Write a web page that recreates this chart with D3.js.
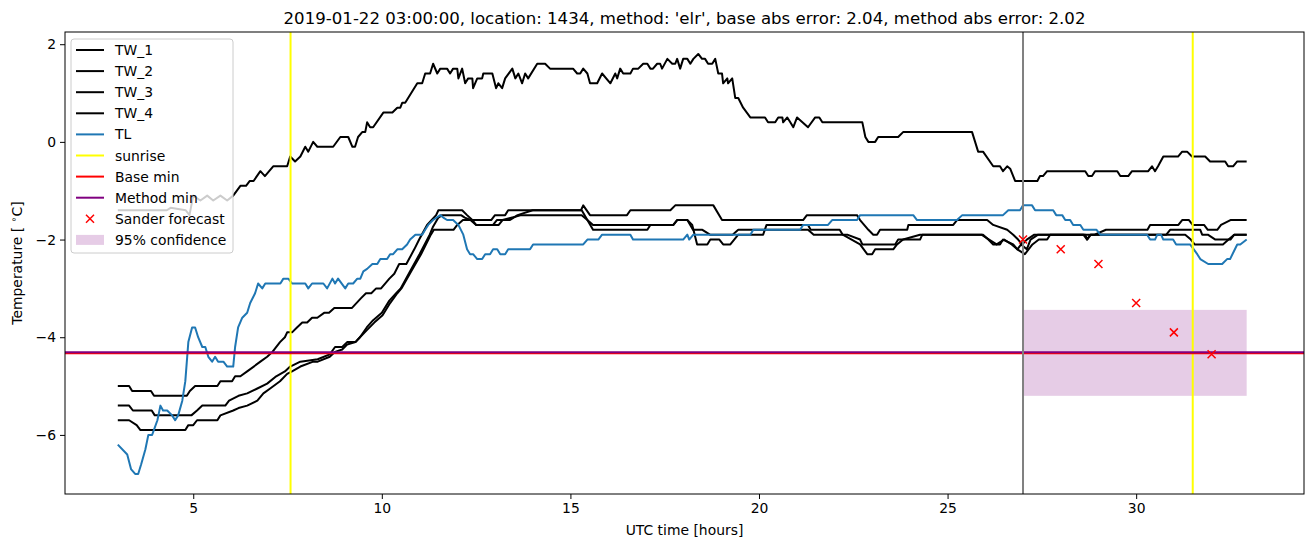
<!DOCTYPE html>
<html>
<head>
<meta charset="utf-8">
<script src="https://cdn.jsdelivr.net/npm/d3@7"></script>
<style>
  body { margin: 0; background: #fff; }
  text { font-family: "DejaVu Sans", sans-serif; fill: #000; }
</style>
</head>
<body>
<svg id="chart" width="1313" height="547"></svg>
<script>
// values, [hour, temperature]
const tw1 = [[3.0,-1.4],[4.3,-1.4],[4.4,-1.35],[4.8,-1.4],[4.9,-1.5],[5.0,-1.1],[5.19,-1.2],[5.37,-1.1],[5.53,-1.2],[5.72,-1.1],[5.9,-1.2],[6.06,-1.1],[6.25,-0.9],[6.4,-0.9],[6.5,-0.8],[6.6,-0.8],[6.78,-0.6],[6.9,-0.7],[7.12,-0.5],[7.49,-0.5],[7.57,-0.3],[7.7,-0.4],[7.84,-0.3],[7.97,-0.1],[8.05,-0.2],[8.18,0.0],[8.29,-0.1],[8.71,-0.1],[8.9,0.1],[9.11,0.1],[9.22,-0.1],[9.29,-0.1],[9.37,0.1],[9.48,0.2],[9.56,0.2],[9.61,0.4],[9.69,0.3],[9.77,0.3],[10.04,0.6],[10.28,0.6],[10.41,0.7],[10.49,0.7],[10.54,0.8],[10.62,0.8],[10.94,1.2],[11.07,1.2],[11.15,1.4],[11.28,1.4],[11.36,1.6],[11.47,1.4],[11.55,1.5],[11.73,1.5],[11.81,1.4],[11.89,1.5],[12.0,1.5],[12.03,1.3],[12.13,1.5],[12.21,1.2],[12.29,1.3],[12.4,1.3],[12.42,1.1],[12.53,1.3],[12.66,1.3],[12.69,1.4],[12.93,1.4],[13.03,1.1],[13.09,1.2],[13.19,1.1],[13.27,1.3],[13.46,1.5],[13.54,1.3],[13.62,1.4],[13.72,1.2],[13.8,1.4],[13.88,1.3],[14.12,1.6],[14.33,1.6],[14.46,1.5],[15.07,1.5],[15.18,1.4],[15.26,1.4],[15.34,1.5],[15.45,1.4],[15.52,1.2],[15.71,1.2],[15.84,1.4],[16.06,1.2],[16.19,1.4],[16.24,1.3],[16.32,1.5],[16.4,1.4],[16.59,1.4],[16.66,1.5],[16.8,1.5],[16.93,1.6],[17.04,1.6],[17.12,1.5],[17.19,1.5],[17.3,1.6],[17.38,1.6],[17.43,1.5],[17.57,1.7],[17.7,1.6],[17.78,1.6],[17.83,1.7],[17.91,1.5],[17.99,1.7],[18.1,1.7],[18.18,1.6],[18.26,1.7],[18.39,1.8],[18.49,1.7],[18.57,1.7],[18.65,1.6],[18.76,1.6],[18.84,1.7],[18.92,1.4],[19.02,1.4],[19.05,1.2],[19.16,1.3],[19.18,1.2],[19.29,1.3],[19.37,0.9],[19.45,0.9],[19.58,0.7],[19.77,0.5],[20.16,0.5],[20.24,0.4],[20.43,0.4],[20.51,0.5],[20.62,0.5],[20.64,0.4],[20.75,0.5],[20.83,0.4],[20.91,0.3],[21.01,0.5],[21.3,0.3],[21.49,0.5],[21.6,0.5],[21.68,0.4],[22.74,0.4],[22.82,0.1],[22.9,0.0],[23.08,0.0],[23.16,0.1],[23.69,0.1],[23.82,0.2],[25.65,0.2],[25.73,0.0],[25.81,-0.2],[25.94,-0.2],[26.21,-0.5],[26.39,-0.5],[26.47,-0.6],[26.58,-0.5],[26.66,-0.55],[26.79,-0.8],[27.38,-0.8],[27.45,-0.7],[27.53,-0.7],[27.64,-0.6],[28.65,-0.6],[28.73,-0.7],[28.83,-0.7],[28.91,-0.6],[29.5,-0.6],[29.58,-0.7],[29.79,-0.7],[29.89,-0.6],[30.32,-0.6],[30.42,-0.5],[30.5,-0.6],[30.58,-0.5],[30.72,-0.3],[31.11,-0.3],[31.22,-0.2],[31.35,-0.2],[31.48,-0.3],[31.83,-0.3],[31.96,-0.4],[32.36,-0.4],[32.44,-0.5],[32.57,-0.5],[32.68,-0.4],[32.93,-0.4]];

const tw2 = [[3.0,-5.0],[3.3,-5.0],[3.38,-5.1],[3.88,-5.1],[3.96,-5.2],[4.83,-5.2],[4.91,-5.1],[5.05,-5.0],[5.64,-5.0],[5.72,-4.9],[6.03,-4.9],[6.11,-4.8],[6.25,-4.8],[6.43,-4.7],[6.78,-4.5],[6.96,-4.4],[7.1,-4.3],[7.3,-4.1],[7.43,-4.0],[7.49,-3.9],[7.62,-3.9],[7.75,-3.8],[7.89,-3.7],[8.02,-3.7],[8.15,-3.6],[8.29,-3.6],[8.47,-3.5],[8.6,-3.5],[8.74,-3.4],[9.21,-3.4],[9.45,-3.2],[9.58,-3.1],[9.72,-3.1],[9.85,-3.0],[9.98,-3.0],[10.2,-2.8],[10.33,-2.7],[10.46,-2.5],[10.65,-2.5],[10.86,-2.2],[10.99,-2.0],[11.2,-1.7],[11.44,-1.5],[11.5,-1.4],[12.13,-1.4],[12.26,-1.5],[12.4,-1.6],[12.9,-1.6],[13.0,-1.5],[13.27,-1.5],[13.35,-1.4],[15.28,-1.4],[15.34,-1.3],[15.52,-1.5],[16.5,-1.5],[16.59,-1.4],[17.65,-1.4],[17.78,-1.3],[18.79,-1.3],[19.02,-1.6],[21.17,-1.6],[21.27,-1.5],[22.6,-1.5],[22.68,-1.6],[22.9,-1.8],[23.03,-1.9],[23.13,-1.9],[23.21,-1.8],[23.93,-1.8],[23.96,-1.7],[25.15,-1.7],[25.25,-1.6],[26.05,-1.6],[26.21,-1.7],[26.58,-1.8],[26.74,-1.9],[26.87,-2.0],[26.98,-2.1],[27.1,-2.0],[27.3,-1.9],[28.9,-1.9],[29.2,-1.8],[30.3,-1.8],[30.37,-1.7],[31.12,-1.7],[31.22,-1.6],[31.4,-1.6],[31.5,-1.7],[31.8,-1.7],[31.9,-1.8],[32.15,-1.8],[32.25,-1.7],[32.5,-1.6],[32.93,-1.6]];

const tw3 = [[3.0,-5.4],[3.3,-5.4],[3.4,-5.5],[3.9,-5.5],[3.98,-5.6],[4.95,-5.6],[5.1,-5.5],[5.24,-5.4],[5.85,-5.4],[5.95,-5.3],[6.2,-5.2],[6.43,-5.15],[6.7,-5.05],[6.96,-4.95],[7.2,-4.8],[7.43,-4.7],[7.57,-4.6],[7.84,-4.5],[8.3,-4.45],[8.62,-4.35],[8.76,-4.2],[8.95,-4.2],[9.08,-4.1],[9.3,-4.1],[9.42,-4.0],[9.6,-3.8],[9.77,-3.65],[10.0,-3.5],[10.2,-3.25],[10.38,-3.1],[10.5,-3.0],[10.75,-2.65],[11.0,-2.3],[11.27,-1.9],[11.35,-1.75],[11.5,-1.55],[11.6,-1.5],[12.1,-1.5],[12.2,-1.55],[12.35,-1.6],[12.5,-1.7],[12.95,-1.7],[13.05,-1.6],[13.4,-1.6],[13.6,-1.5],[14.0,-1.4],[15.3,-1.4],[15.45,-1.6],[15.6,-1.8],[17.04,-1.8],[17.12,-1.7],[17.73,-1.7],[17.83,-1.6],[18.1,-1.6],[18.23,-1.7],[18.36,-2.1],[18.63,-2.1],[18.71,-2.0],[18.95,-2.0],[19.05,-2.1],[19.24,-2.1],[19.45,-1.9],[20.11,-1.9],[20.2,-1.7],[21.3,-1.7],[21.37,-1.8],[22.14,-1.8],[22.22,-1.9],[22.68,-2.1],[22.87,-2.3],[23.0,-2.3],[23.08,-2.2],[23.56,-2.2],[23.66,-2.1],[23.82,-2.0],[24.27,-1.9],[25.9,-1.9],[26.1,-2.0],[26.3,-2.1],[26.5,-2.0],[26.7,-2.1],[26.85,-2.2],[27.05,-2.3],[27.25,-2.1],[27.42,-2.0],[27.64,-2.0],[27.72,-1.9],[28.65,-1.9],[28.7,-2.0],[28.78,-1.9],[31.3,-1.9],[31.45,-2.0],[31.55,-2.1],[32.3,-2.1],[32.45,-2.0],[32.6,-1.9],[32.93,-1.9]];

const tw4 = [[3.0,-5.7],[3.3,-5.7],[3.5,-5.8],[3.6,-5.9],[4.79,-5.9],[4.87,-5.8],[5.0,-5.8],[5.1,-5.7],[5.64,-5.7],[5.72,-5.6],[6.06,-5.5],[6.2,-5.45],[6.43,-5.4],[6.7,-5.3],[6.86,-5.15],[7.04,-5.05],[7.3,-4.9],[7.49,-4.75],[7.62,-4.7],[7.84,-4.6],[8.18,-4.5],[8.3,-4.5],[8.62,-4.4],[8.76,-4.3],[8.95,-4.25],[9.08,-4.15],[9.3,-4.1],[9.42,-4.0],[9.61,-3.85],[9.8,-3.7],[10.02,-3.55],[10.22,-3.3],[10.41,-3.1],[10.52,-3.0],[10.78,-2.65],[11.04,-2.3],[11.3,-1.9],[11.38,-1.8],[11.9,-1.8],[12.0,-1.7],[12.15,-1.6],[12.4,-1.6],[12.5,-1.7],[13.1,-1.7],[13.2,-1.6],[13.7,-1.5],[15.3,-1.5],[15.45,-1.6],[15.6,-1.7],[17.73,-1.7],[17.83,-1.6],[18.1,-1.6],[18.25,-1.8],[18.5,-1.8],[18.7,-1.9],[19.3,-1.9],[19.45,-1.8],[21.3,-1.8],[21.45,-1.9],[22.34,-1.9],[22.68,-2.0],[22.74,-2.1],[23.61,-2.1],[23.69,-2.0],[24.27,-2.0],[24.33,-1.9],[25.94,-1.9],[26.08,-2.0],[26.21,-2.1],[26.39,-2.1],[26.47,-2.0],[26.74,-2.1],[26.85,-2.2],[26.95,-2.1],[27.1,-2.2],[27.2,-2.0],[27.4,-1.9],[28.6,-1.9],[28.7,-2.0],[28.8,-1.9],[30.8,-1.9],[30.9,-1.8],[31.7,-1.8],[31.75,-1.9],[31.9,-1.9],[32.1,-2.0],[32.5,-2.0],[32.6,-1.9],[32.93,-1.9]];

const tl = [[3.0,-6.2],[3.25,-6.4],[3.35,-6.7],[3.46,-6.8],[3.54,-6.8],[3.62,-6.6],[3.73,-6.3],[3.81,-6.0],[3.91,-6.0],[4.05,-5.7],[4.13,-5.4],[4.2,-5.5],[4.31,-5.5],[4.44,-5.6],[4.52,-5.7],[4.6,-5.6],[4.71,-5.3],[4.79,-4.9],[4.87,-4.1],[4.97,-3.8],[5.05,-3.8],[5.13,-4.0],[5.24,-4.2],[5.32,-4.2],[5.4,-4.4],[5.5,-4.5],[5.58,-4.4],[5.66,-4.5],[5.8,-4.5],[5.9,-4.6],[6.06,-4.6],[6.11,-4.2],[6.19,-3.8],[6.3,-3.6],[6.43,-3.5],[6.51,-3.3],[6.64,-3.1],[6.72,-2.9],[6.83,-3.0],[6.91,-2.9],[7.31,-2.9],[7.39,-2.8],[7.52,-2.8],[7.62,-2.9],[7.97,-2.9],[8.05,-3.0],[8.15,-2.9],[8.45,-2.9],[8.55,-3.0],[8.69,-2.8],[8.76,-2.9],[8.84,-2.8],[9.03,-3.0],[9.11,-2.9],[9.24,-2.9],[9.35,-2.8],[9.43,-2.8],[9.51,-2.65],[9.61,-2.6],[9.75,-2.5],[9.88,-2.5],[9.96,-2.4],[10.14,-2.4],[10.22,-2.3],[10.3,-2.3],[10.41,-2.2],[10.54,-2.2],[10.67,-2.1],[10.75,-2.0],[10.89,-1.9],[11.07,-1.9],[11.15,-1.8],[11.23,-1.7],[11.36,-1.6],[11.55,-1.5],[11.63,-1.55],[11.73,-1.6],[11.89,-1.6],[12.03,-1.7],[12.16,-1.9],[12.26,-2.2],[12.34,-2.3],[12.42,-2.3],[12.53,-2.4],[12.66,-2.4],[12.74,-2.3],[12.87,-2.3],[12.95,-2.2],[13.06,-2.2],[13.14,-2.3],[13.27,-2.3],[13.35,-2.2],[13.93,-2.2],[14.01,-2.1],[15.34,-2.1],[15.45,-2.0],[15.74,-2.0],[15.84,-1.9],[16.59,-1.9],[16.66,-2.0],[17.99,-2.0],[18.1,-1.9],[18.15,-2.0],[18.26,-1.9],[19.77,-1.9],[19.85,-1.8],[21.09,-1.8],[21.17,-1.7],[21.83,-1.7],[21.94,-1.6],[22.6,-1.6],[22.68,-1.5],[24.09,-1.5],[24.19,-1.6],[25.25,-1.6],[25.39,-1.5],[26.47,-1.5],[26.61,-1.4],[26.92,-1.4],[27.0,-1.3],[27.24,-1.3],[27.32,-1.4],[27.8,-1.4],[27.88,-1.5],[28.04,-1.5],[28.12,-1.6],[28.25,-1.6],[28.33,-1.7],[28.52,-1.7],[28.6,-1.8],[28.95,-1.8],[29.05,-1.9],[30.29,-1.9],[30.37,-2.0],[30.5,-2.0],[30.56,-1.9],[30.66,-1.9],[30.72,-2.0],[30.98,-2.0],[31.06,-2.1],[31.43,-2.1],[31.62,-2.3],[31.7,-2.4],[31.91,-2.5],[32.28,-2.5],[32.41,-2.4],[32.49,-2.4],[32.68,-2.1],[32.76,-2.1],[32.93,-2.0]];

const sunriseHours = [7.58, 31.5];
const forecastStart = 27;
const baseMin = -4.33;
const methodMin = -4.31;
const forecastHours = [27, 28, 29, 30, 31, 32];
const forecastTemps = [-2.0, -2.2, -2.5, -3.3, -3.9, -4.35];
const confidenceHours = [27, 32.93];
const confidenceBand = [-5.2, -3.44];
const xTicks = [5, 10, 15, 20, 25, 30];
const yTicks = [-6, -4, -2, 0, 2];
const xLimits = [1.6, 34.45];
const yLimits = [-7.21, 2.25];

const titleText = "2019-01-22 03:00:00, location: 1434, method: 'elr', base abs error: 2.04, method abs error: 2.02";

const svg = d3.select("#chart");
const width = +svg.attr("width");
const height = +svg.attr("height");
const margin = {top: 32, right: 9, bottom: 53, left: 65};
const fontSize = "13.9px";

const x = d3.scaleLinear().domain(xLimits).range([margin.left, width - margin.right]);
const y = d3.scaleLinear().domain(yLimits).range([height - margin.bottom, margin.top]);

svg.append("clipPath").attr("id", "plot-clip")
  .append("rect")
  .attr("x", margin.left).attr("y", margin.top)
  .attr("width", width - margin.left - margin.right)
  .attr("height", height - margin.top - margin.bottom);

const plot = svg.append("g").attr("clip-path", "url(#plot-clip)");

// 95% confidence band
plot.append("rect")
  .attr("x", x(confidenceHours[0]))
  .attr("y", y(confidenceBand[1]))
  .attr("width", x(confidenceHours[1]) - x(confidenceHours[0]))
  .attr("height", y(confidenceBand[0]) - y(confidenceBand[1]))
  .attr("fill", "#800080")
  .attr("fill-opacity", 0.2);

const line = d3.line().x(d => x(d[0])).y(d => y(d[1]));

const series = [
  {name: "TW_1", data: tw1, color: "#000000"},
  {name: "TW_2", data: tw2, color: "#000000"},
  {name: "TW_3", data: tw3, color: "#000000"},
  {name: "TW_4", data: tw4, color: "#000000"},
  {name: "TL", data: tl, color: "#1f77b4"}
];

plot.selectAll("path.series")
  .data(series)
  .join("path")
  .attr("class", "series")
  .attr("d", d => line(d.data))
  .attr("fill", "none")
  .attr("stroke", d => d.color)
  .attr("stroke-width", 2)
  .attr("stroke-linejoin", "round");

// sunrise lines
plot.selectAll("line.sunrise")
  .data(sunriseHours)
  .join("line")
  .attr("class", "sunrise")
  .attr("x1", d => x(d)).attr("x2", d => x(d))
  .attr("y1", margin.top).attr("y2", height - margin.bottom)
  .attr("stroke", "#ffff00")
  .attr("stroke-width", 2);

// base min and method min
plot.selectAll("line.minline")
  .data([{v: baseMin, c: "#ff0000"}, {v: methodMin, c: "#800080"}])
  .join("line")
  .attr("class", "minline")
  .attr("x1", margin.left).attr("x2", width - margin.right)
  .attr("y1", d => y(d.v)).attr("y2", d => y(d.v))
  .attr("stroke", d => d.c)
  .attr("stroke-width", 2);

// forecast start
plot.append("line")
  .attr("x1", x(forecastStart)).attr("x2", x(forecastStart))
  .attr("y1", margin.top).attr("y2", height - margin.bottom)
  .attr("stroke", "#808080")
  .attr("stroke-width", 2);

// Sander forecast markers
const cross = (g, s) => g.append("path")
  .attr("d", `M${-s},${-s}L${s},${s}M${-s},${s}L${s},${-s}`)
  .attr("stroke", "#ff0000")
  .attr("stroke-width", 1.5);

forecastHours.forEach((h, i) => {
  const g = plot.append("g").attr("transform", `translate(${x(h)},${y(forecastTemps[i])})`);
  cross(g, 4);
});

// axes
const xAxis = svg.append("g")
  .attr("transform", `translate(0,${height - margin.bottom})`)
  .call(d3.axisBottom(x).tickValues(xTicks).tickSize(5).tickPadding(4).tickFormat(d3.format("d")));

const yAxis = svg.append("g")
  .attr("transform", `translate(${margin.left},0)`)
  .call(d3.axisLeft(y).tickValues(yTicks).tickSize(5).tickPadding(4).tickFormat(d => d < 0 ? "\u2212" + Math.abs(d) : d));

[xAxis, yAxis].forEach(a => {
  a.select(".domain").remove();
  a.selectAll(".tick line").attr("stroke", "#000").attr("stroke-width", 1);
  a.selectAll(".tick text").style("font-size", fontSize).style("font-family", "DejaVu Sans");
});

// frame
svg.append("rect")
  .attr("x", margin.left).attr("y", margin.top)
  .attr("width", width - margin.left - margin.right)
  .attr("height", height - margin.top - margin.bottom)
  .attr("fill", "none")
  .attr("stroke", "#000")
  .attr("stroke-width", 1);

// title and axis labels
svg.append("text")
  .attr("x", (margin.left + width - margin.right) / 2)
  .attr("y", 24)
  .attr("text-anchor", "middle")
  .style("font-size", "16.6px")
  .text(titleText);

svg.append("text")
  .attr("x", (margin.left + width - margin.right) / 2)
  .attr("y", 535)
  .attr("text-anchor", "middle")
  .style("font-size", fontSize)
  .text("UTC time [hours]");

const ylab = svg.append("text")
  .attr("transform", "rotate(-90)")
  .attr("x", -(margin.top + height - margin.bottom) / 2)
  .attr("y", 22)
  .attr("text-anchor", "middle")
  .style("font-size", fontSize);
ylab.append("tspan").text("Temperature [ ");
ylab.append("tspan").attr("dy", -5).style("font-size", "9.5px").text("\u2218");
ylab.append("tspan").attr("dy", 5).text("C]");

// legend
const legendItems = [
  {label: "TW_1", type: "line", color: "#000000"},
  {label: "TW_2", type: "line", color: "#000000"},
  {label: "TW_3", type: "line", color: "#000000"},
  {label: "TW_4", type: "line", color: "#000000"},
  {label: "TL", type: "line", color: "#1f77b4"},
  {label: "sunrise", type: "line", color: "#ffff00"},
  {label: "Base min", type: "line", color: "#ff0000"},
  {label: "Method min", type: "line", color: "#800080"},
  {label: "Sander forecast", type: "marker", color: "#ff0000"},
  {label: "95% confidence", type: "patch", color: "#800080"}
];

const legend = svg.append("g").attr("transform", "translate(71,39)");
legend.append("rect")
  .attr("width", 162).attr("height", 214)
  .attr("rx", 3)
  .attr("fill", "#fff").attr("fill-opacity", 0.8)
  .attr("stroke", "#cccccc").attr("stroke-width", 1);

const rows = legend.selectAll("g.row")
  .data(legendItems)
  .join("g")
  .attr("class", "row")
  .attr("transform", (d, i) => `translate(0,${11 + i * 21.1})`);

rows.filter(d => d.type === "line").append("line")
  .attr("x1", 5).attr("x2", 33)
  .attr("stroke", d => d.color).attr("stroke-width", 2);

rows.filter(d => d.type === "marker").each(function () {
  cross(d3.select(this).append("g").attr("transform", "translate(19,0)"), 4);
});

rows.filter(d => d.type === "patch").append("rect")
  .attr("x", 5).attr("y", -5).attr("width", 28).attr("height", 10)
  .attr("fill", d => d.color).attr("fill-opacity", 0.2);

rows.append("text")
  .attr("x", 44).attr("y", 5)
  .style("font-size", fontSize)
  .text(d => d.label);
</script>
</body>
</html>
